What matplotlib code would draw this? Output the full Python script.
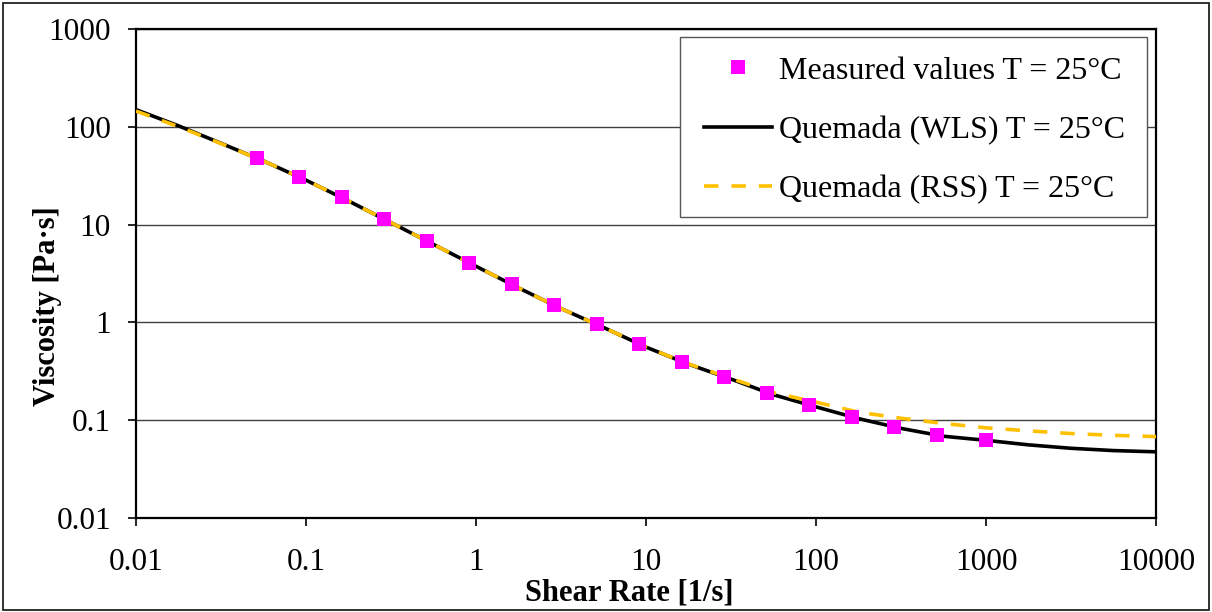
#!/usr/bin/env python
# -*- coding: utf-8 -*-

import matplotlib
matplotlib.use('Agg')
import matplotlib.pyplot as plt
from matplotlib.patches import Rectangle


#------------------------------------------------------
# measured points
shear_meas = [0.0513, 0.0912, 0.162, 0.288, 0.513, 0.912, 1.62, 2.88, 5.13,
              9.12, 16.2, 28.8, 51.3, 91.2, 162, 288, 513, 1000]
visc_meas = [48.2, 30.8, 19.0, 11.4, 6.83, 4.07, 2.44, 1.50, 0.953,
             0.599, 0.395, 0.277, 0.190, 0.142, 0.107, 0.0848, 0.0703, 0.0624]

# model curves, read at quarter decades
shear_fit = [0.01, 0.0178, 0.0316, 0.0562, 0.1, 0.178, 0.316, 0.562, 1,
             1.78, 3.16, 5.62, 10, 17.8, 31.6, 56.2, 100, 178, 316, 562,
             1000, 1780, 3160, 5620, 10000]
visc_wls = [151, 103, 68.3, 45.0, 28.6, 17.5, 10.5, 6.29, 3.75,
            2.25, 1.384, 0.886, 0.557, 0.372, 0.262, 0.181, 0.136, 0.103,
            0.0819, 0.068, 0.0618, 0.0555, 0.0512, 0.0485, 0.0471]
visc_rss = [146, 101, 67.8, 45.0, 28.6, 17.5, 10.5, 6.29, 3.75,
            2.25, 1.384, 0.886, 0.558, 0.374, 0.266, 0.190, 0.152, 0.120,
            0.104, 0.092, 0.083, 0.0772, 0.0725, 0.0695, 0.0675]

xticks = [0.01, 0.1, 1, 10, 100, 1000, 10000]
xtick_labels = ['0.01', '0.1', '1', '10', '100', '1000', '10000']
yticks = [0.01, 0.1, 1, 10, 100, 1000]
ytick_labels = ['0.01', '0.1', '1', '10', '100', '1000']

labels = ['Measured values T = 25°C',
          'Quemada (WLS) T = 25°C',
          'Quemada (RSS) T = 25°C']


#------------------------------------------------------
def plot_chart(ofname):
    plt.rcParams['font.family'] = ['Liberation Serif', 'DejaVu Serif']

    fig = plt.figure(figsize=(12.12, 6.12), dpi=100)
    ax = fig.add_axes([0.1122, 0.1544, 0.8416, 0.7974])

    l_wls, = ax.plot(shear_fit, visc_wls, color='black', lw=2.6, zorder=3)
    l_rss, = ax.plot(shear_fit, visc_rss, color='#FFC000', lw=2.6,
                     dashes=(4.0, 3.6), zorder=4)
    l_meas, = ax.plot(shear_meas, visc_meas, ls='none', marker='s',
                      ms=9.5, mfc='#FF00FF', mec='#FF00FF', mew=0, zorder=5)

    ax.set_xscale('log')
    ax.set_yscale('log')
    ax.set_xlim(0.01, 10000)
    ax.set_ylim(0.01, 1000)

    ax.set_xticks(xticks)
    ax.set_xticklabels(xtick_labels)
    ax.set_yticks(yticks)
    ax.set_yticklabels(ytick_labels)
    ax.minorticks_off()
    ax.tick_params(axis='both', which='major', direction='out', length=6,
                   width=1.2, labelsize=22.5)
    ax.tick_params(axis='x', pad=16)
    ax.tick_params(axis='y', pad=12)

    ax.yaxis.grid(True, color='#404040', lw=1.0)
    ax.set_axisbelow(True)
    for sp in ax.spines.values():
        sp.set_linewidth(1.6)
        sp.set_color('black')

    ax.set_xlabel('Shear Rate [1/s]', fontsize=22, fontweight='bold')
    ax.xaxis.set_label_coords(0.484, -0.124)
    ax.set_ylabel('Viscosity [Pa·s]', fontsize=22, fontweight='bold')
    ax.yaxis.set_label_coords(-0.073, 0.433)

    # legend box drawn by hand: it has more room at the sides than on top
    box = Rectangle((680 / 1212, (612 - 217) / 612), 467 / 1212, 180 / 612,
                    transform=fig.transFigure, facecolor='white',
                    edgecolor='#555555', lw=1.0, zorder=6)
    ax.add_patch(box)
    leg = ax.legend([l_meas, l_wls, l_rss], labels, loc='upper right',
                    bbox_to_anchor=(1141 / 1212, (612 - 40) / 612),
                    bbox_transform=fig.transFigure, fontsize=23,
                    frameon=False, handlelength=2.15, handletextpad=0.2,
                    labelspacing=0.93, borderpad=0.51, borderaxespad=0)
    leg.set_zorder(7)

    # outer border of the picture
    fig.patches.append(Rectangle((3 / 1212, 2 / 612), 1206 / 1212, 607 / 612,
                                 transform=fig.transFigure, fill=False,
                                 edgecolor='#222222', lw=1.3))

    fig.savefig(ofname, dpi=100)


#------------------------------------------------------
if __name__ == '__main__':
    plot_chart('out.png')
